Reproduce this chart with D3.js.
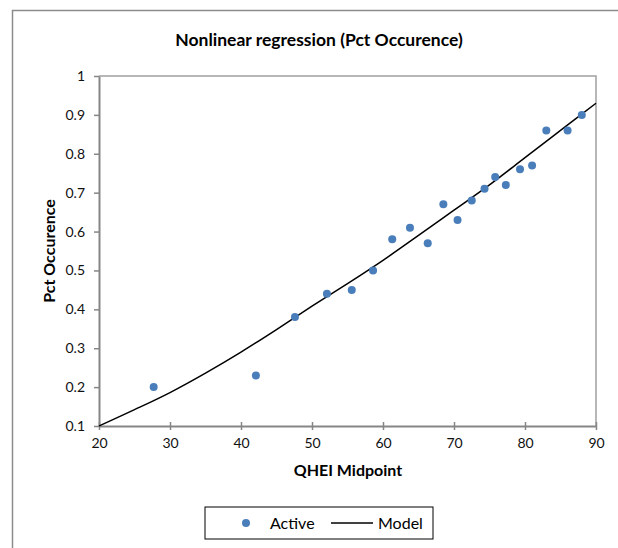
<!DOCTYPE html>
<html>
<head>
<meta charset="utf-8">
<script src="https://cdn.jsdelivr.net/npm/d3@7"></script>
<style>
  html, body { margin: 0; padding: 0; background: #fff; }
  svg { display: block; font-family: Lato, "Open Sans", "Liberation Sans", sans-serif; }
</style>
</head>
<body>
<svg id="chart" width="618" height="548"></svg>
<script>
// ---- data ----
const activeX = [27.7, 42.1, 47.6, 52.1, 55.6, 58.6, 61.3, 63.8, 66.3, 68.5, 70.5, 72.5, 74.3, 75.8, 77.3, 79.3, 81.0, 83.0, 86.0, 88.0];
const activeY = [0.20, 0.23, 0.38, 0.44, 0.45, 0.50, 0.58, 0.61, 0.57, 0.67, 0.63, 0.68, 0.71, 0.74, 0.72, 0.76, 0.77, 0.86, 0.86, 0.90];
const modelX = [20, 25, 30, 35, 40, 45, 50, 55, 60, 65, 70, 75, 80, 85, 90];
const modelY = [0.10, 0.142, 0.186, 0.236, 0.29, 0.348, 0.408, 0.466, 0.526, 0.59, 0.655, 0.72, 0.79, 0.86, 0.93];
const xTicks = [20, 30, 40, 50, 60, 70, 80, 90];
const yTicks = [0.1, 0.2, 0.3, 0.4, 0.5, 0.6, 0.7, 0.8, 0.9, 1];
const titleText = "Nonlinear regression (Pct Occurence)";
const xTitle = "QHEI Midpoint";
const yTitle = "Pct Occurence";
const seriesNames = ["Active", "Model"];

const svg = d3.select("#chart");
const W = 618, H = 548;
const plot = { left: 99, top: 76, right: 596, bottom: 426 };

// outer frame (only top and left visible in the crop)
svg.append("path")
  .attr("d", `M12.5,${H} L12.5,10.5 L${W},10.5`)
  .attr("fill", "none").attr("stroke", "#8c8c8c").attr("stroke-width", 1.5);

const x = d3.scaleLinear().domain([20, 90]).range([plot.left, plot.right]);
const y = d3.scaleLinear().domain([0.1, 1]).range([plot.bottom, plot.top]);

// plot area border (top & right)
svg.append("path")
  .attr("d", `M${plot.left},${plot.top} L${plot.right},${plot.top} L${plot.right},${plot.bottom}`)
  .attr("fill", "none").attr("stroke", "#a0a0a0").attr("stroke-width", 1.5);

// axes
const xAxis = svg.append("g").attr("transform", `translate(0,${plot.bottom})`)
  .call(d3.axisBottom(x).tickValues(xTicks).tickFormat(d3.format("d")).tickSizeInner(5).tickSizeOuter(0).tickPadding(7));
xAxis.selectAll(".tick line").attr("y1", -4).attr("y2", 4);
const yAxis = svg.append("g").attr("transform", `translate(${plot.left},0)`)
  .call(d3.axisLeft(y).tickValues(yTicks).tickFormat(d => d === 1 ? "1" : d3.format(".1f")(d)).tickSizeInner(5).tickSizeOuter(0).tickPadding(9));

[xAxis, yAxis].forEach(g => {
  g.select(".domain").attr("stroke", "#868686").attr("stroke-width", 2);
  g.selectAll(".tick line").attr("stroke", "#868686").attr("stroke-width", 1.5);
  g.selectAll(".tick text").attr("fill", "#111").style("font-size", "14px").style("font-family", "Lato, 'Open Sans', sans-serif");
});

// model line
const modelData = modelX.map((v, i) => [v, modelY[i]]);
svg.append("path")
  .datum(modelData)
  .attr("fill", "none").attr("stroke", "#000").attr("stroke-width", 1.5)
  .attr("d", d3.line().x(d => x(d[0])).y(d => y(d[1])).curve(d3.curveMonotoneX));

// active points
const pts = activeX.map((v, i) => [v, activeY[i]]);
svg.append("g").selectAll("circle").data(pts).join("circle")
  .attr("cx", d => x(d[0])).attr("cy", d => y(d[1])).attr("r", 4)
  .attr("fill", "#4a7ebb");

// titles
svg.append("text").attr("x", 319).attr("y", 46).attr("text-anchor", "middle")
  .style("font-size", "17.5px").style("font-weight", "bold").attr("fill", "#000").text(titleText);
svg.append("text").attr("x", 348).attr("y", 476).attr("text-anchor", "middle")
  .style("font-size", "16px").style("font-weight", "bold").attr("fill", "#000").text(xTitle);
svg.append("text").attr("transform", `translate(55,${(plot.top + plot.bottom) / 2}) rotate(-90)`)
  .attr("text-anchor", "middle")
  .style("font-size", "16px").style("font-weight", "bold").attr("fill", "#000").text(yTitle);

// legend
const lg = svg.append("g");
lg.append("rect").attr("x", 205).attr("y", 507).attr("width", 228).attr("height", 32)
  .attr("fill", "#fff").attr("stroke", "#000").attr("stroke-width", 1);
lg.append("circle").attr("cx", 246).attr("cy", 523).attr("r", 4).attr("fill", "#4a7ebb");
lg.append("text").attr("x", 270).attr("y", 529).style("font-size", "16px").attr("fill", "#000").text(seriesNames[0]);
lg.append("line").attr("x1", 331).attr("x2", 373).attr("y1", 523).attr("y2", 523).attr("stroke", "#000").attr("stroke-width", 1.5);
lg.append("text").attr("x", 378).attr("y", 529).style("font-size", "16px").attr("fill", "#000").text(seriesNames[1]);
</script>
</body>
</html>
